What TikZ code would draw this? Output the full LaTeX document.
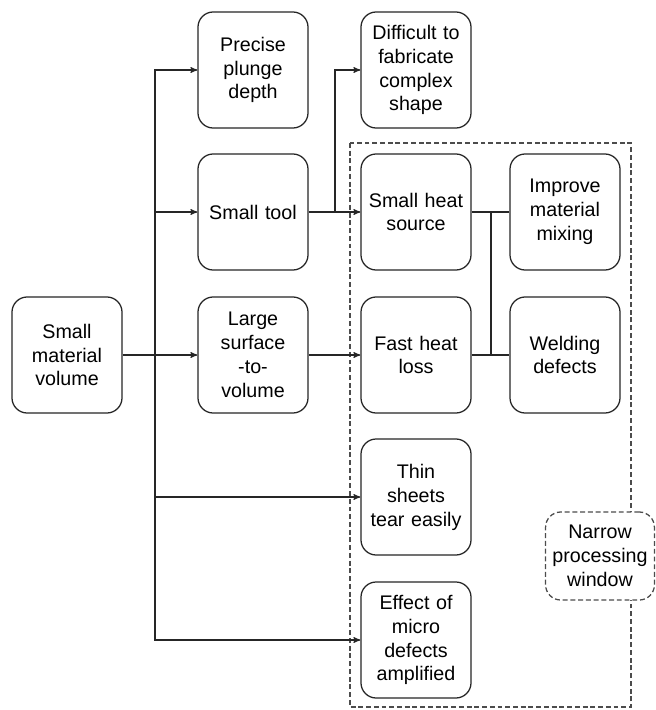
\documentclass[tikz,border=0pt]{standalone}
\usepackage{fontspec}
\setmainfont{Liberation Sans}
\usetikzlibrary{arrows}
\tikzset{
  boite/.style = {align=center, inner sep=0pt, text centered,
    font=\fontsize{14pt}{17pt}\selectfont},
  boite_p/.style = {boite, rectangle, rounded corners=0.38cm, draw=black!85,
    line width=0.9pt, fill=white, text width=2.6cm,
    minimum width=2.75cm, minimum height=2.9cm},% boite pleine
  boite_t/.style = {boite, rectangle, rounded corners=0.38cm, draw=black!70,
    line width=0.9pt, dash pattern=on 3.5pt off 2pt, fill=white,
    text width=2.6cm, minimum width=2.72cm, minimum height=2.2cm},% boite tiretee
  lien/.style = {line width=0.8pt, black!85}% liaison
}
\begin{document}
\begin{tikzpicture}[x=0.025cm, y=-0.025cm, ->, >=stealth']
                  \useasboundingbox (0,0) rectangle (656,710);
                  % zone en tirets
                  \draw [-, line width=0.9pt, black!70, dash pattern=on 3.5pt off 2pt]
                    (350,143) rectangle (631,707);
                  \node [boite_p] (vol) at (67,355) {Small\\material\\volume};
                  \node [boite_p] (plunge) at (253,70) {Precise\\plunge\\depth};
                  \node [boite_p] (tool) at (253,212) {Small tool};
                  \node [boite_p] (surf) at (253,355) {Large\\surface\\-to-\\volume};
                  \node [boite_p] (shape) at (416,70) {Difficult to\\fabricate\\complex\\shape};
                  \node [boite_p] (heat) at (416,212) {Small heat\\source};
                  \node [boite_p] (loss) at (416,355) {Fast heat\\loss};
                  \node [boite_p] (mix) at (565,212) {Improve\\material\\mixing};
                  \node [boite_p] (weld) at (565,355) {Welding\\defects};
                  \node [boite_p] (tear) at (416,497) {Thin\\sheets\\tear easily};
                  \node [boite_p] (micro) at (416,640) {Effect of\\micro\\defects\\amplified};
                  \node [boite_t] (narrow) at (600,556) {Narrow\\processing\\window};
                  % points de branchement
                  \coordinate (jg) at (155,355);
                  \coordinate (jt) at (335,212);
                  \coordinate (jd) at (491,212);
                  % liaisons
                  \draw [lien] (vol) -- (surf);
                  \draw [lien] (jg) |- (plunge);
                  \draw [lien] (jg) |- (tool);
                  \draw [lien] (jg) |- (tear);
                  \draw [lien] (jg) |- (micro);
                  \draw [lien] (tool) -- (heat);
                  \draw [lien] (jt) |- (shape);
                  \draw [lien] (surf) -- (loss);
                  \draw [lien, -] (heat) -- (mix);
                  \draw [lien, -] (loss) -- (weld);
                  \draw [lien, -] (jd) -- (jd |- weld);
                \end{tikzpicture}
\end{document}
